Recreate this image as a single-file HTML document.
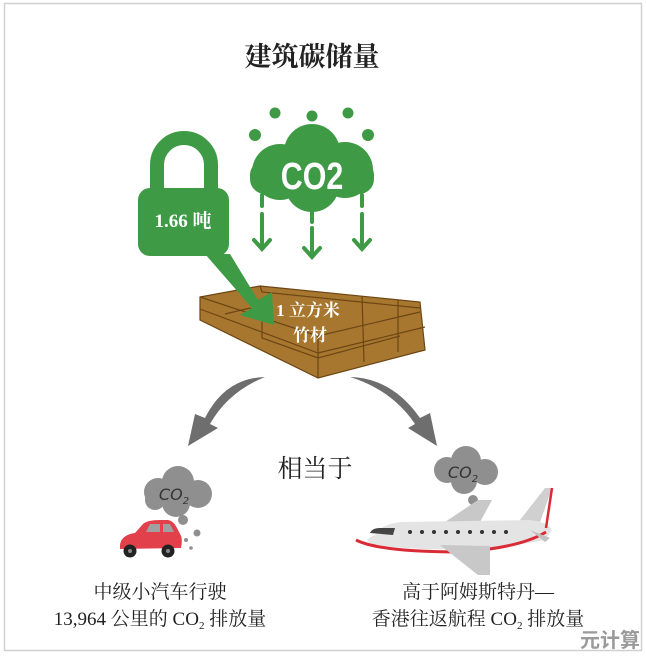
<!DOCTYPE html>
<html><head><meta charset="utf-8"><style>
html,body{margin:0;padding:0;background:#fff;}
svg{display:block;}
</style></head><body>
<svg width="646" height="658" viewBox="0 0 646 658" xmlns="http://www.w3.org/2000/svg">
<rect x="4.5" y="3.5" width="637" height="647" fill="#fff" stroke="#d0d0d0" stroke-width="1.5"/>
<text x="312" y="66" text-anchor="middle" font-family="'Liberation Serif','Noto Serif CJK SC',serif" font-weight="bold" font-size="27" fill="#222">建筑碳储量</text>

<!-- CO2 cloud -->
<g fill="#3f9a45">
<circle cx="255" cy="135" r="6"/><circle cx="275" cy="113" r="5.5"/><circle cx="312" cy="116" r="5.5"/><circle cx="348" cy="113" r="5.5"/><circle cx="368" cy="135" r="6"/>
<circle cx="280" cy="172" r="28"/><circle cx="312" cy="152" r="28"/><circle cx="345" cy="170" r="28"/><circle cx="312" cy="185" r="27"/>
<rect x="250" y="160" width="124" height="34" rx="15"/>
</g>
<text x="0" y="0" transform="translate(312 189) scale(0.8 1)" text-anchor="middle" font-family="'Liberation Sans',sans-serif" font-weight="bold" font-size="38" fill="#fff">CO2</text>
<g stroke="#3f9a45" stroke-width="4" fill="none" stroke-linecap="round">
<path d="M262 195 V206 M262 214 V248 M254 240 L262 249 L270 240"/>
<path d="M312 210 V222 M312 228 V256 M304 248 L312 257 L320 248"/>
<path d="M362 195 V206 M362 214 V248 M354 240 L362 249 L370 240"/>
</g>

<!-- lock -->
<path d="M157 195 V165 A27 27 0 0 1 211 165 V195" fill="none" stroke="#3f9a45" stroke-width="14"/>
<rect x="138" y="188" width="91" height="68" rx="12" fill="#3f9a45"/>
<text x="183" y="227" text-anchor="middle" font-family="'Liberation Serif','Noto Serif CJK SC',serif" font-weight="bold" font-size="19" fill="#fff">1.66 吨</text>

<!-- wood -->
<g stroke="#6b4614" stroke-width="1.2" fill="#a8772f">
<path d="M200 297 L260 286 L420 302 L425 350 L318 378 L200 320 Z"/>
<path d="M200 309 L318 353 L425 327" fill="none"/>
<path d="M200 297 L318 336 L420 312" fill="none"/>
<path d="M260 286 L262 292 L420 308" fill="none"/>
<path d="M318 336 V378" fill="none"/>
<path d="M362 296 L364 362 M398 300 L398 352" fill="none"/>
<path d="M262 318 L262 338 L318 358 L400 336" fill="none"/>
<path d="M225 314 L250 308 L262 318" fill="none"/>
</g>
<!-- green arrow -->
<path d="M205 254 L230 254 L258 300 L272 292 L274 325 L240 315 L252 308 Z" fill="#3f9a45"/>
<text x="308" y="316" text-anchor="middle" font-family="'Liberation Serif','Noto Serif CJK SC',serif" font-weight="bold" font-size="17" fill="#fff">1 立方米</text>
<text x="310" y="341" text-anchor="middle" font-family="'Liberation Serif','Noto Serif CJK SC',serif" font-weight="bold" font-size="17" fill="#fff">竹材</text>

<!-- gray arrows -->
<path d="M265 377 Q225 378 205 418 L195 414 L188 446 L218 428 L210 424 Q228 392 265 377 Z" fill="#6e6e6e"/>
<path d="M350 377 Q392 378 420 418 L430 413 L437 446 L408 428 L415 424 Q392 390 350 377 Z" fill="#6e6e6e"/>

<text x="315" y="477" text-anchor="middle" font-family="'Liberation Serif','Noto Serif CJK SC',serif" font-size="25" fill="#222">相当于</text>

<!-- car cloud -->
<g fill="#8f8f8f">
<circle cx="158" cy="492" r="14"/><circle cx="178" cy="482" r="16"/><circle cx="198" cy="494" r="14"/><circle cx="176" cy="503" r="14"/><circle cx="155" cy="500" r="10"/>
<circle cx="183" cy="520" r="5"/><circle cx="197" cy="533" r="3.5"/><circle cx="186" cy="540" r="2"/><circle cx="191" cy="548" r="1.8"/>
</g>
<text x="174" y="500" text-anchor="middle" font-family="'DejaVu Sans',sans-serif" font-style="italic" font-size="16" fill="#333">CO<tspan font-size="10" dy="4">2</tspan></text>
<!-- car -->
<path d="M120 545 Q121 535 135 533 L143 524 Q147 520 160 520 L168 520 Q174 521 178 530 L180 534 Q183 538 181 548 L120 549 Z" fill="#e2414b"/>
<path d="M146 532 L150 524 L160 524 L160 532 Z M163 532 L163 524 L170 524 L174 532 Z" fill="#a0a0a0"/>
<circle cx="130" cy="551" r="6.5" fill="#222"/><circle cx="168" cy="551" r="6.5" fill="#222"/>
<circle cx="130" cy="551" r="2" fill="#888"/><circle cx="168" cy="551" r="2" fill="#888"/>

<!-- plane cloud -->
<g fill="#8f8f8f">
<circle cx="447" cy="470" r="13"/><circle cx="466" cy="461" r="15"/><circle cx="485" cy="472" r="13"/><circle cx="464" cy="481" r="13"/>
<circle cx="473" cy="500" r="5"/>
</g>
<text x="463" y="478" text-anchor="middle" font-family="'DejaVu Sans',sans-serif" font-style="italic" font-size="16" fill="#333">CO<tspan font-size="10" dy="4">2</tspan></text>
<!-- plane -->
<path d="M445 522 L478 500 L492 500 L480 522 Z" fill="#c8c8c8"/>
<path d="M520 520 L545 488 L552 488 L538 528 Z" fill="#d0d0d0"/>
<path d="M375 535 Q380 525 400 522 L530 520 Q548 522 552 530 L545 540 Q470 555 380 546 Q358 542 375 535 Z" fill="#e4e4e4"/>
<path d="M356 540 Q380 552 460 552 Q520 548 546 532" fill="none" stroke="#d92a35" stroke-width="3"/>
<path d="M546 528 L552 488" stroke="#d92a35" stroke-width="2.5"/>
<path d="M370 533 Q372 528 380 528 L395 528 L393 535 Z" fill="#444"/>
<g fill="#333"><circle cx="410" cy="532" r="2"/><circle cx="422" cy="532" r="2"/><circle cx="434" cy="532" r="2"/><circle cx="446" cy="532" r="2"/><circle cx="458" cy="532" r="2"/><circle cx="470" cy="532" r="2"/><circle cx="482" cy="532" r="2"/><circle cx="494" cy="532" r="2"/><circle cx="506" cy="532" r="2"/></g>
<path d="M440 545 L490 546 L490 575 L478 575 Z" fill="#c8c8c8"/>
<path d="M530 530 L550 538 L545 542 Z" fill="#c0c0c0"/>

<g font-family="'Liberation Serif','Noto Serif CJK SC',serif" font-size="19" fill="#222" text-anchor="middle">
<text x="160" y="598">中级小汽车行驶</text>
<text x="160" y="625">13,964 公里的 CO<tspan font-size="11" dy="4">2</tspan><tspan dy="-4"> 排放量</tspan></text>
<text x="478" y="598">高于阿姆斯特丹—</text>
<text x="478" y="625">香港往返航程 CO<tspan font-size="11" dy="4">2</tspan><tspan dy="-4"> 排放量</tspan></text>
</g>
<text x="640" y="647" text-anchor="end" font-family="'Noto Sans CJK SC',sans-serif" font-weight="bold" font-size="20" fill="#9a9a9a">元计算</text>
</svg>
</body></html>
